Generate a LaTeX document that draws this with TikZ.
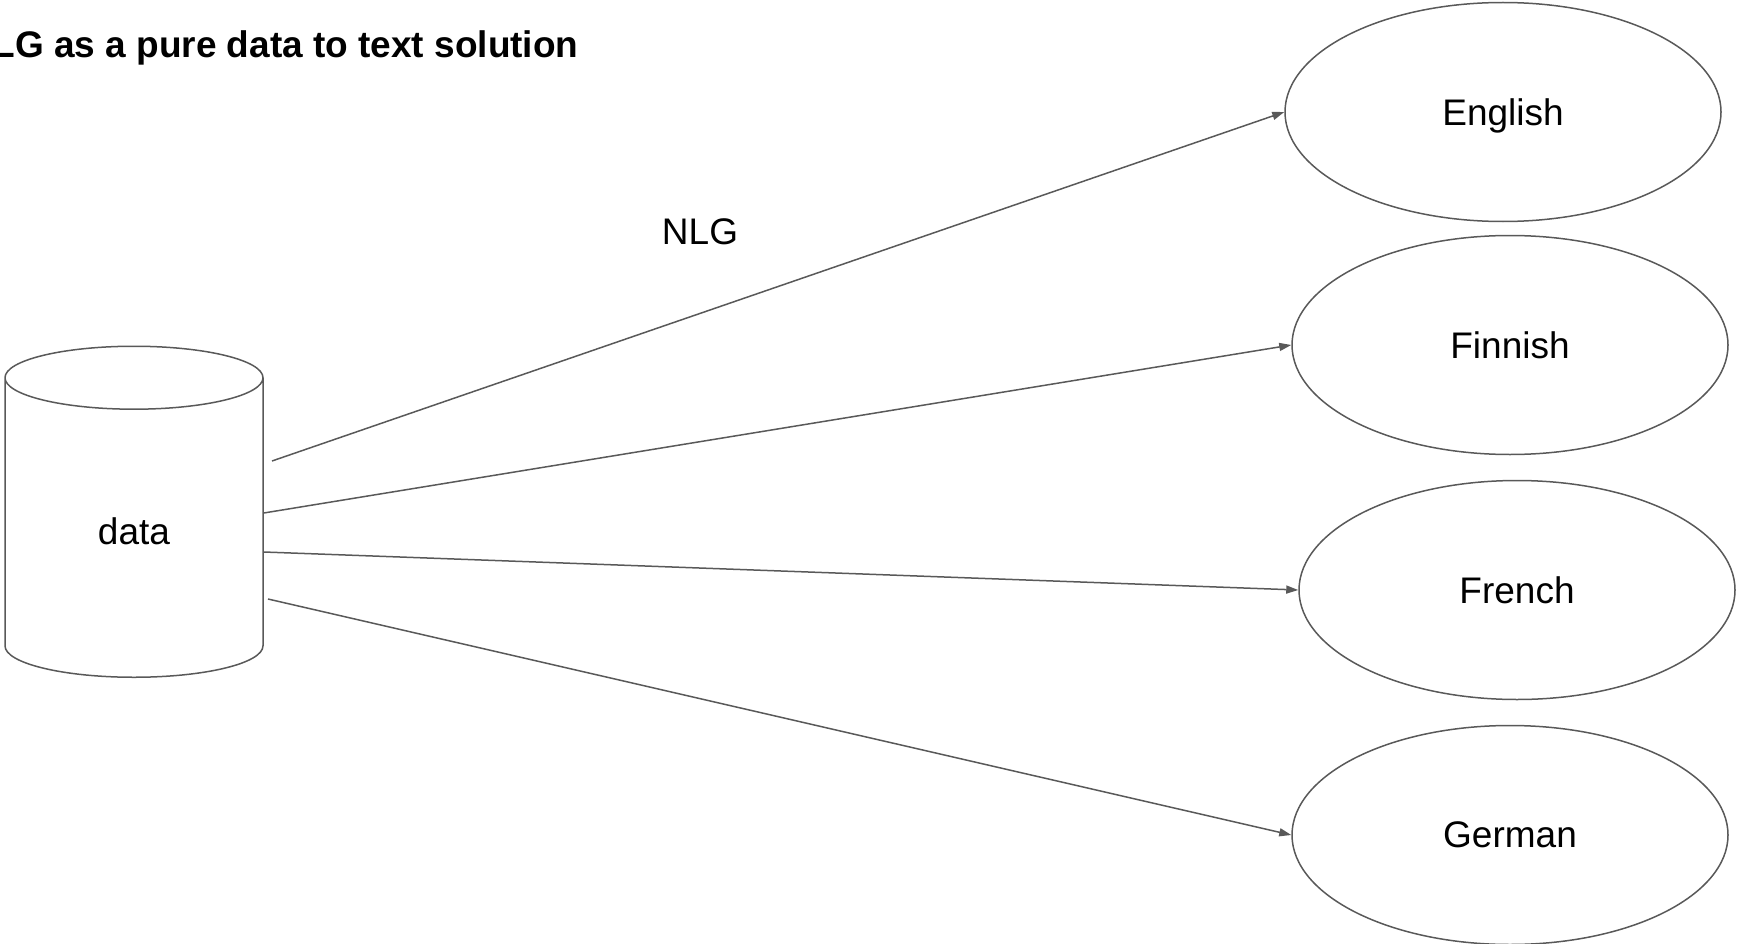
\documentclass[tikz,border=0pt]{standalone}
\usepackage{fontspec}
\setmainfont{Liberation Sans}
\usepackage{tikz}
\usetikzlibrary{shapes.geometric,arrows.meta}
\definecolor{edgegray}{HTML}{595959}

\begin{document}
\begin{tikzpicture}[x=1pt,y=-1pt,
	every node/.style={font=\fontsize{37}{44}\selectfont},
	lang/.style={ellipse,draw=edgegray,line width=1.5pt,minimum width=436pt,minimum height=219pt,inner sep=0pt,text depth=0pt},
	store/.style={cylinder,shape border rotate=90,draw=edgegray,line width=1.5pt,minimum width=258pt,minimum height=331pt,aspect=0.8},
	link/.style={draw=edgegray,line width=1.5pt,-{Triangle[length=12pt,width=8pt]}}
	]
	\useasboundingbox (0,0) rectangle (1739,944);
	\node[anchor=base east,font=\bfseries\fontsize{37}{44}\selectfont] (title) at (582,58) {NLG as a pure data to text solution};
	\node[store,anchor=south] (data) at (134,678) {data};
	\node[lang] (english) at (1503,112) {English};
	\node[lang] (finnish) at (1510,345) {Finnish};
	\node[lang] (french) at (1517,590) {French};
	\node[lang] (german) at (1510,835) {German};
	\node (nlg) at (700,232) {NLG};
	\coordinate (s1) at (272,461);
	\coordinate (s2) at (data.east |- 0,513);
	\coordinate (s3) at (data.east |- 0,552);
	\coordinate (s4) at (268,599);
	\draw[link] (s1) -- (english.west);
	\draw[link] (s2) -- (finnish.west);
	\draw[link] (s3) -- (french.west);
	\draw[link] (s4) -- (german.west);
\end{tikzpicture}
\end{document}
